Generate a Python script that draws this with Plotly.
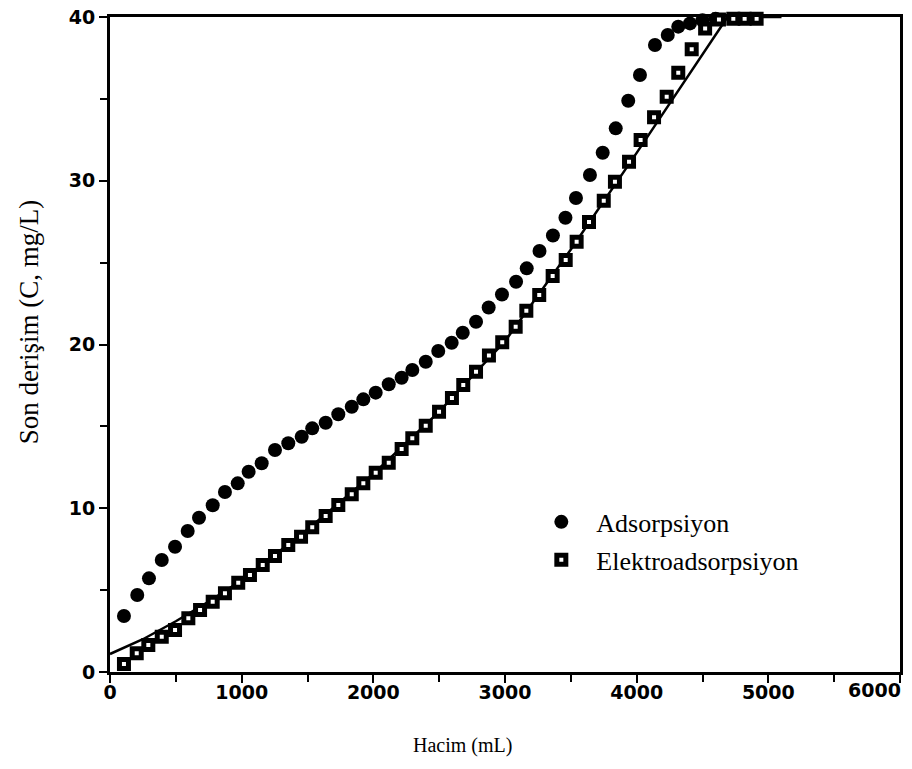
import plotly.graph_objects as go

# Adsorpsiyon (filled circles)
ads_x = [106, 207, 296, 393, 494, 590, 676, 780, 873, 970, 1053, 1152, 1253, 1354, 1456,
         1536, 1638, 1734, 1836, 1924, 2018, 2117, 2215, 2296, 2398, 2493, 2595, 2679, 2780,
         2876, 2977, 3084, 3165, 3262, 3364, 3459, 3539, 3645, 3742, 3841, 3936, 4025, 4139,
         4236, 4316, 4405, 4500, 4600]
ads_y = [3.42, 4.70, 5.72, 6.84, 7.65, 8.61, 9.42, 10.18, 10.99, 11.52, 12.23, 12.75, 13.56,
         13.97, 14.37, 14.88, 15.22, 15.74, 16.20, 16.65, 17.06, 17.57, 17.97, 18.44, 18.95,
         19.60, 20.11, 20.72, 21.39, 22.26, 23.05, 23.83, 24.65, 25.71, 26.66, 27.74, 28.95,
         30.35, 31.71, 33.20, 34.89, 36.46, 38.29, 38.90, 39.41, 39.61, 39.80, 39.90]

# Elektroadsorpsiyon (open squares)
elek_x = [106, 203, 291, 393, 494, 595, 684, 780, 873, 974, 1063, 1160, 1253, 1354, 1451,
          1536, 1638, 1734, 1836, 1924, 2018, 2117, 2215, 2296, 2398, 2499, 2597, 2683, 2780,
          2878, 2979, 3081, 3162, 3260, 3362, 3461, 3544, 3638, 3750, 3835, 3942, 4030, 4132,
          4228, 4316, 4418, 4520, 4625, 4734, 4820, 4911]
elek_y = [0.49, 1.14, 1.65, 2.16, 2.56, 3.28, 3.79, 4.29, 4.81, 5.45, 5.92, 6.53, 7.08, 7.76,
          8.26, 8.84, 9.53, 10.20, 10.85, 11.52, 12.17, 12.78, 13.62, 14.27, 15.04, 15.90,
          16.73, 17.53, 18.34, 19.33, 20.13, 21.09, 22.06, 23.02, 24.18, 25.16, 26.28, 27.48,
          28.78, 29.94, 31.16, 32.49, 33.88, 35.13, 36.60, 38.03, 39.30, 39.85, 39.90, 39.90,
          39.90]

# Fitted curve (solid line)
fit_x = [0, 250, 500, 750, 1000, 1500, 2000, 2500, 3000, 3500, 4000, 4500, 4690, 5100]
fit_y = [1.1, 2.0, 3.1, 4.3, 5.6, 8.7, 12.1, 15.9, 20.2, 25.8, 31.7, 37.7, 40.0, 40.0]

# x tick labels (the last one is drawn right-aligned at the axis end, as in the original)
x_tickvals = [0, 1000, 2000, 3000, 4000, 5000, 6000]
x_ticklabels = ["0", "1000", "2000", "3000", "4000", "5000", "6000"]

x_title = "Hacim (mL)"
y_title = "Son derişim (C, mg/L)"
ads_name = "Adsorpsiyon"
elek_name = "Elektroadsorpsiyon"

fig = go.Figure()
fig.add_trace(go.Scatter(x=fit_x, y=fit_y, mode="lines", showlegend=False,
                         line=dict(color="black", width=2.5)))
fig.add_trace(go.Scatter(x=ads_x, y=ads_y, mode="markers", name=ads_name, legendgroup="a",
                         marker=dict(symbol="circle", size=14, color="black",
                                     line=dict(width=0)), cliponaxis=False))
fig.add_trace(go.Scatter(x=elek_x, y=elek_y, mode="markers", name=elek_name, legendgroup="b",
                         marker=dict(symbol="square", size=9, color="white",
                                     line=dict(color="black", width=5)), cliponaxis=False))

tickfont = dict(family="DejaVu Sans", size=19, color="black", weight="bold")
serif = "Liberation Serif"

axis_ticktext = x_ticklabels[:-1] + [""]

fig.update_layout(
    width=912, height=769,
    margin=dict(l=110, r=12, t=17, b=97, autoexpand=False),
    paper_bgcolor="white", plot_bgcolor="white",
    showlegend=True,
    legend=dict(x=0.527, y=0.265, xanchor="left", yanchor="top",
                font=dict(family=serif, size=26, color="black"),
                bgcolor="rgba(0,0,0,0)", tracegroupgap=1, itemwidth=60),
    xaxis=dict(range=[0, 6000], tickvals=x_tickvals, ticktext=axis_ticktext,
               showgrid=False, zeroline=False, automargin=False,
               ticklabelstandoff=-7,
               showline=True, linecolor="black", linewidth=3, mirror=True,
               ticks="outside", ticklen=8, tickwidth=2, tickcolor="black",
               minor=dict(dtick=500, tick0=0, ticks="outside", ticklen=7, tickwidth=2,
                          tickcolor="black"),
               tickfont=tickfont),
    yaxis=dict(range=[0, 40], dtick=10, tick0=0, showgrid=False, zeroline=False,
               automargin=False, ticklabeloverflow="allow",
               showline=True, linecolor="black", linewidth=3, mirror=True,
               ticks="outside", ticklen=8, tickwidth=2, tickcolor="black",
               minor=dict(dtick=5, ticks="outside", ticklen=7, tickwidth=2, tickcolor="black"),
               tickfont=tickfont),
    annotations=[
        dict(text=x_ticklabels[-1], xref="x", yref="paper", x=x_tickvals[-1], y=-0.0275,
             xanchor="right", yanchor="middle", showarrow=False, xshift=3,
             font=tickfont),
        dict(text=x_title, xref="paper", yref="paper", x=0.446, y=-0.112,
             xanchor="center", yanchor="middle", showarrow=False,
             font=dict(family=serif, size=20, color="black")),
        dict(text=y_title, xref="paper", yref="paper", x=-0.103, y=0.535,
             xanchor="center", yanchor="middle", showarrow=False, textangle=-90,
             font=dict(family=serif, size=27, color="black")),
    ],
)

fig.write_html("out.html", config={"displayModeBar": False},
               post_script="document.body.style.margin='0';document.body.style.overflow='hidden';")
